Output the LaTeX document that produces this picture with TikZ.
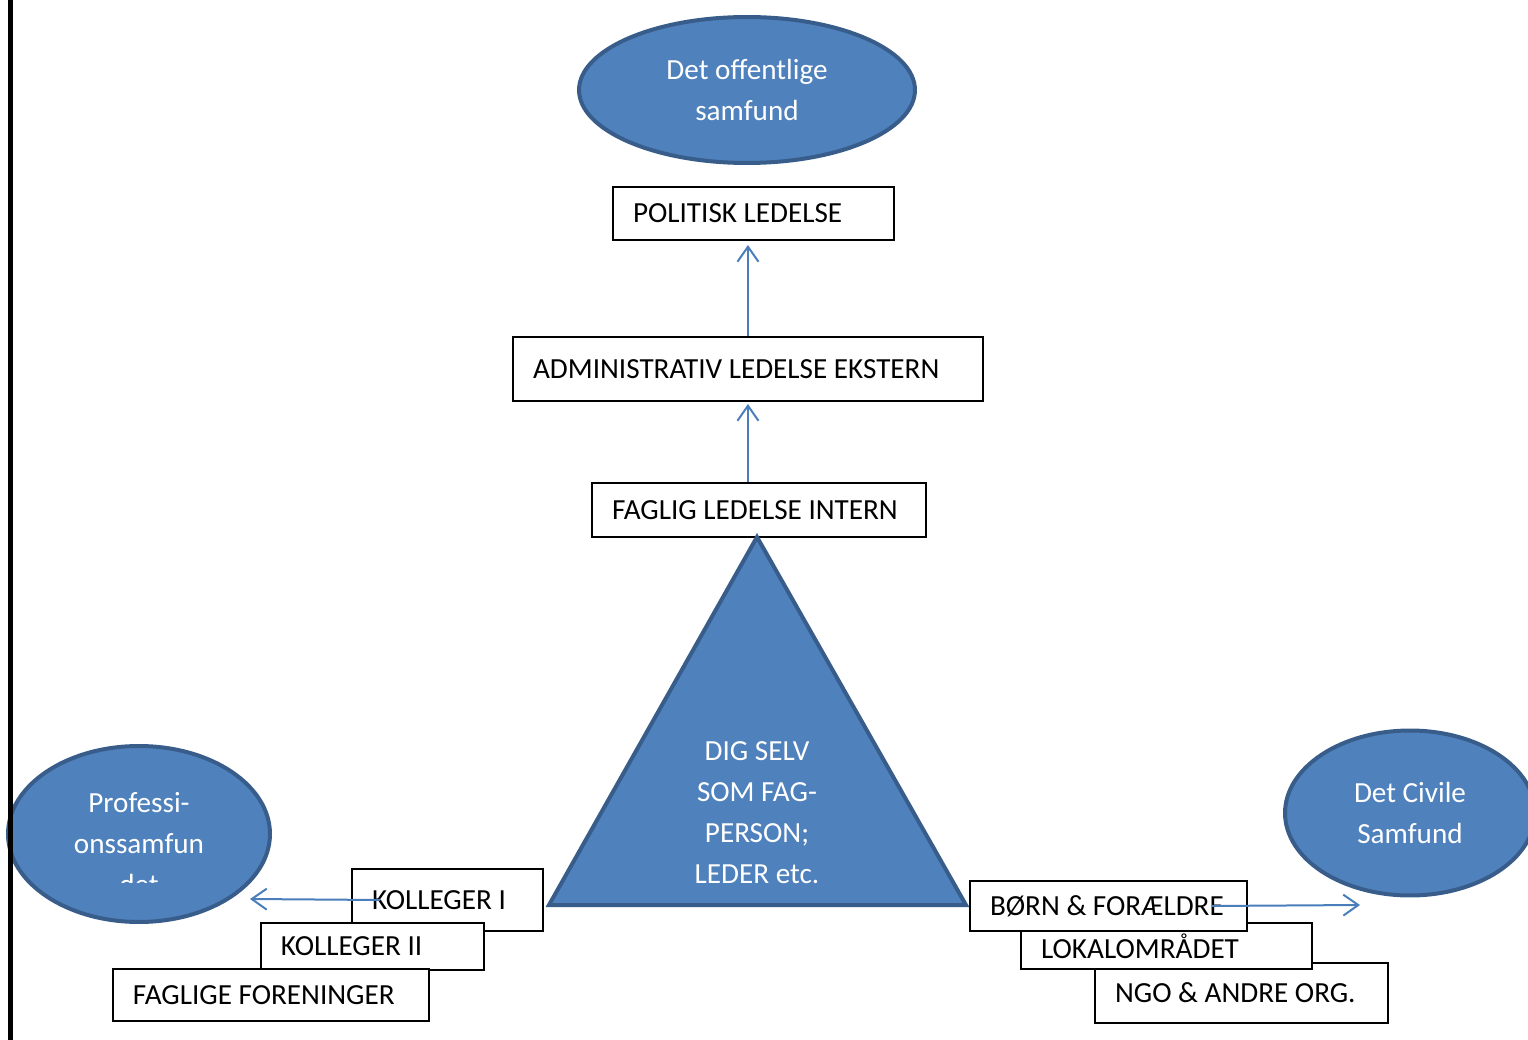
\documentclass[tikz,border=0pt]{standalone}
\usepackage{fontspec}
\setmainfont{Carlito}
\usetikzlibrary{shapes.geometric,arrows.meta,calc}
\definecolor{ovalfill}{RGB}{79,129,189}
\definecolor{ovalline}{RGB}{56,93,138}
\definecolor{pilblue}{RGB}{74,126,187}

\begin{document}
\begin{tikzpicture}[x=0.02cm,y=-0.02cm,
    every node/.style={font=\fontsize{16.6}{23.3}\selectfont},
    oval/.style={ellipse, fill=ovalfill, draw=ovalline, line width=0.08cm, text=white, align=center, inner sep=0pt},
    kasse/.style={draw=black, line width=0.04cm, fill=white, anchor=north west, align=flush left, inner xsep=0.4cm, inner ysep=0pt, text width=#1},
    pil/.style={draw=pilblue, line width=0.04cm, -{Straight Barb[length=0.3cm,width=0.42cm]}}]
    \clip (0,0) rectangle (1528,1040);

    % Ellipses
    \node[oval, minimum width=6.72cm, minimum height=2.92cm] (offentlig) at (747,90) {Det offentlige\\samfund};
    \node[oval, minimum width=5.24cm, minimum height=3.52cm] (prof) at (139,834) {};
    \begin{scope}
        \clip (0,0) rectangle (1528,882);
        \node[text=white, align=center] (proftekst) at (139,844) {Professi-\\onssamfun\\det};
    \end{scope}
    \node[oval, minimum width=5cm, minimum height=3.3cm] (civil) at (1410,813) {Det Civile\\Samfund};

    % Boxes up the middle
    \node[kasse=4.82cm, minimum height=1.06cm] (politisk) at (612,186) {POLITISK LEDELSE};
    \node[kasse=8.6cm, minimum height=1.28cm] (admin) at (512,336) {ADMINISTRATIV LEDELSE EKSTERN};
    \node[kasse=5.88cm, minimum height=1.08cm] (faglig) at (591,482) {FAGLIG LEDELSE INTERN};

    % Triangle
    \coordinate (spids) at (757,537);
    \coordinate (venstre) at (549,905);
    \coordinate (hoejre) at (966,905);
    \draw[fill=ovalfill, draw=ovalline, line width=0.08cm] (spids) -- (venstre) -- (hoejre) -- cycle;
    \node[text=white, align=center] (selv) at (757,813) {DIG SELV\\SOM FAG-\\PERSON;\\LEDER etc.};

    % Boxes on the left
    \node[kasse=3.02cm, minimum height=1.24cm] (kol1) at (351,868) {KOLLEGER I};
    \node[kasse=3.66cm, minimum height=0.94cm] (kol2) at (260,922) {KOLLEGER II};
    \node[kasse=5.52cm, minimum height=1.04cm] (foren) at (112,968) {FAGLIGE FORENINGER};

    % Boxes on the right
    \node[kasse=5.06cm, minimum height=1.2cm] (ngo) at (1094,962) {NGO \& ANDRE ORG.};
    \node[kasse=5.02cm, minimum height=0.92cm] (lokal) at (1020,922) {LOKALOMRÅDET};
    \node[kasse=4.74cm, minimum height=1.0cm] (born) at (969,880) {BØRN \& FORÆLDRE};

    % Arrows
    \draw[pil] (admin.north) -- ($(admin.north |- politisk.south)+(0,4)$);
    \draw[pil] (faglig.north -| admin.north) -- ($(admin.south)+(0,2)$);
    \coordinate (profpil) at (250,899);
    \draw[pil] ($(kol1.west)+(29,0)$) -- (profpil);
    \coordinate (civilpil) at (1360,905);
    \draw[pil] ($(born.east)+(-36,0)$) -- (civilpil);

    % Bar on the left edge
    \draw[line width=0.1cm] (10.5,0) -- (10.5,1040);
\end{tikzpicture}
\end{document}
